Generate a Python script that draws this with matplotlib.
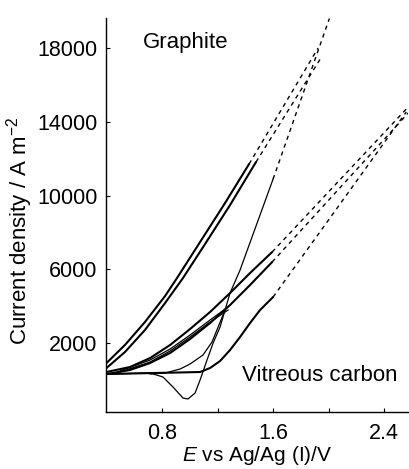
import matplotlib
matplotlib.use("agg")
import matplotlib.pyplot as plt

plt.rcParams['font.family'] = ['Liberation Sans', 'DejaVu Sans']
plt.rcParams['mathtext.fontset'] = 'custom'
plt.rcParams['mathtext.rm'] = 'Liberation Sans'
plt.rcParams['mathtext.it'] = 'Liberation Sans:italic'

# Graphite, forward and reverse (thick)
g1_E = [0.40, 0.533, 0.677, 0.822, 0.908, 1.074, 1.254, 1.427]
g1_I = [920, 1900, 3145, 4555, 5531, 7484, 9599, 11714]
g1_ext_E = [1.427, 1.924]
g1_ext_I = [11714, 18004]

g2_E = [0.40, 0.533, 0.677, 0.822, 0.951, 1.110, 1.290, 1.477]
g2_I = [651, 1518, 2712, 4176, 5531, 7375, 9490, 11822]
g2_ext_E = [1.477, 1.953]
g2_ext_I = [11822, 17570]

# middle pair (thick)
m1_E = [0.40, 0.569, 0.714, 0.858, 1.002, 1.146, 1.290, 1.434, 1.593]
m1_I = [434, 705, 1193, 1898, 2766, 3688, 4718, 5803, 6941]
m1_ext_E = [1.593, 2.566]
m1_ext_I = [6941, 14750]

m2_E = [0.40, 0.569, 0.714, 0.858, 1.002, 1.146, 1.290, 1.434, 1.593]
m2_I = [325, 542, 922, 1464, 2223, 3091, 4067, 5152, 6399]
m2_ext_E = [1.593, 2.580]
m2_ext_I = [6399, 14534]

# thin double line between the middle pair
th1_E = [0.497, 0.714, 0.858, 1.002, 1.146, 1.254]
th1_I = [488, 1085, 1681, 2440, 3254, 3850]
th2_E = [0.497, 0.714, 0.858, 1.002, 1.146, 1.276]
th2_I = [434, 976, 1573, 2332, 3145, 3796]

# vitreous carbon (thick)
v_E = [0.40, 1.074, 1.146, 1.218, 1.290, 1.362, 1.434, 1.506, 1.600]
v_I = [325, 434, 651, 1030, 1627, 2332, 3091, 3796, 4501]
v_ext_E = [1.600, 2.559]
v_ext_I = [4501, 14534]

# thin steep curve with the cathodic dip
s_E = [0.40, 0.714, 0.807, 0.879, 0.951, 0.987, 1.038, 1.074, 1.124,
       1.168, 1.218, 1.254, 1.290, 1.362, 1.600]
s_I = [325, 380, 163, -380, -976, -1030, -705, 0, 1085,
       2007, 2874, 3796, 4718, 5965, 10900]
s_ext_E = [1.600, 2.005]
s_ext_I = [10900, 19600]

# thin curve joining the steep one
t_E = [0.714, 0.822, 0.930, 1.002, 1.095, 1.160, 1.204, 1.254]
t_I = [325, 380, 597, 868, 1356, 2061, 2874, 3796]

fig = plt.figure(figsize=(4.09, 4.69), dpi=100)
ax = fig.add_axes([0.259, 0.1215, 0.739, 0.84])

thick = dict(color='black', lw=1.5, solid_capstyle='round')
thin = dict(color='black', lw=0.9)
dash = dict(color='black', lw=1.0, ls=(0, (3, 3)))

for E, I in [(g1_E, g1_I), (g2_E, g2_I), (m1_E, m1_I), (m2_E, m2_I), (v_E, v_I)]:
    ax.plot(E, I, **thick)
for E, I in [(th1_E, th1_I), (th2_E, th2_I), (s_E, s_I), (t_E, t_I)]:
    ax.plot(E, I, **thin)
for E, I in [(g1_ext_E, g1_ext_I), (g2_ext_E, g2_ext_I), (m1_ext_E, m1_ext_I),
             (m2_ext_E, m2_ext_I), (v_ext_E, v_ext_I), (s_ext_E, s_ext_I)]:
    ax.plot(E, I, **dash)

ax.set_xlim(0.396, 2.573)
ax.set_ylim(-1735, 19630)

ax.spines['top'].set_visible(False)
ax.spines['right'].set_visible(False)
ax.spines['left'].set_linewidth(1.0)
ax.spines['bottom'].set_linewidth(1.0)

ax.set_xticks([0.8, 1.2, 1.6, 2.0, 2.4])
ax.set_xticklabels(['0.8', '', '1.6', '', '2.4'])
ax.set_yticks([2000, 6000, 10000, 14000, 18000])
ax.tick_params(axis='both', direction='in', length=3, width=0.8, labelsize=15.5)
ax.tick_params(axis='x', pad=8)
ax.tick_params(axis='y', pad=6)

ax.set_xlabel(r'$E$ vs Ag/Ag (I)/V', fontsize=15)
ax.xaxis.set_label_coords(0.5, -0.081)
ax.set_ylabel(r'Current density / A m$^{-2}$', fontsize=16)
ax.yaxis.set_label_coords(-0.235, 0.459)

ax.text(0.663, 18330, 'Graphite', fontsize=16, va='center', ha='left')
ax.text(1.377, 271, 'Vitreous carbon', fontsize=16, va='center', ha='left')

fig.savefig('out.png', dpi=100)
